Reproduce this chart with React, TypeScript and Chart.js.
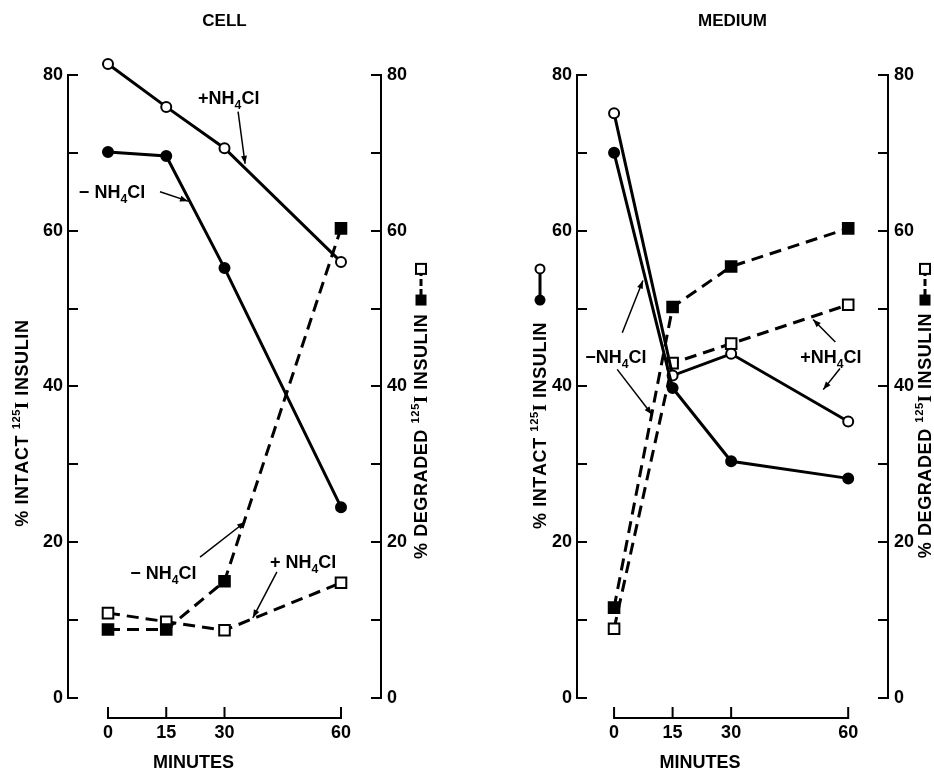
import React, { useEffect, useRef } from "react";
import { Chart, registerables } from "chart.js";

Chart.register(...registerables);

// ---------- data ----------
const MINUTES = [0, 15, 30, 60];
const X_TICKS = [0, 15, 30, 60];
const Y_TICKS = [0, 10, 20, 30, 40, 50, 60, 70, 80];
const Y_LABEL_EVERY = 20;

const CELL_INTACT_MINUS = [70.1, 69.6, 55.2, 24.5];
const CELL_INTACT_PLUS = [81.4, 75.9, 70.6, 56.0];
const CELL_DEGRADED_MINUS = [8.8, 8.8, 15.0, 60.3];
const CELL_DEGRADED_PLUS = [10.9, 9.8, 8.7, 14.8];

const MEDIUM_INTACT_MINUS = [70.0, 39.8, 30.4, 28.2];
const MEDIUM_INTACT_PLUS = [75.1, 41.4, 44.2, 35.5];
const MEDIUM_DEGRADED_MINUS = [11.6, 50.2, 55.4, 60.3];
const MEDIUM_DEGRADED_PLUS = [8.9, 43.0, 45.5, 50.5];

const PANEL_TITLES = ["CELL", "MEDIUM"];
const X_TITLE = "MINUTES";
const Y_LEFT_TITLE = "% INTACT ¹²⁵I INSULIN";
const Y_RIGHT_TITLE = "% DEGRADED ¹²⁵I INSULIN";

// annotations (in data units: minutes, percent)
const CELL_NOTES = [
  { text: "+NH₄Cl", x: 23.2, y: 77.1 },
  { text: "− NH₄Cl", x: -7.5, y: 65.0 },
  { text: "− NH₄Cl", x: 5.7, y: 16.1 },
  { text: "+ NH₄Cl", x: 41.7, y: 17.5 },
];
const CELL_ARROWS = [
  [33.5, 75.3, 35.3, 68.6],
  [13.4, 65.0, 20.6, 63.8],
  [23.7, 18.1, 35.3, 22.6],
  [43.5, 16.2, 37.3, 10.3],
];
const MEDIUM_NOTES = [
  { text: "−NH₄Cl", x: -7.4, y: 43.8 },
  { text: "+NH₄Cl", x: 47.7, y: 43.8 },
];
const MEDIUM_ARROWS = [
  [2.1, 46.9, 7.4, 53.6],
  [0.8, 42.2, 9.7, 36.4],
  [56.7, 45.7, 51.0, 48.6],
  [57.9, 42.3, 53.6, 39.6],
];

// ---------- layout / style ----------
const W = 467;
const H = 770;
const FONT = "'Liberation Sans', Arial, Helvetica, sans-serif";
const SERIF = "'Liberation Serif', 'DejaVu Serif', serif";
const X_TITLE_AT = 22;
const KEY_OPEN_AT = 55.1;
const KEY_FILLED_AT = 51.1;
const Y_HEADROOM = 2;

const PANELS = [
  {
    title: PANEL_TITLES[0],
    left: 0,
    pad: { left: 8, right: 46 },
    xRange: [-10.3, 70.3],
    intactMinus: CELL_INTACT_MINUS,
    intactPlus: CELL_INTACT_PLUS,
    degradedMinus: CELL_DEGRADED_MINUS,
    degradedPlus: CELL_DEGRADED_PLUS,
    notes: CELL_NOTES,
    arrows: CELL_ARROWS,
    leftTitle: { dx: -46, at: 35.3, key: null as null | string },
    rightTitle: { dx: 40, at: 33.6, key: "square" as null | string },
  },
  {
    title: PANEL_TITLES[1],
    left: 467,
    pad: { left: 50, right: 6 },
    xRange: [-9.5, 70.2],
    intactMinus: MEDIUM_INTACT_MINUS,
    intactPlus: MEDIUM_INTACT_PLUS,
    degradedMinus: MEDIUM_DEGRADED_MINUS,
    degradedPlus: MEDIUM_DEGRADED_PLUS,
    notes: MEDIUM_NOTES,
    arrows: MEDIUM_ARROWS,
    leftTitle: { dx: -37, at: 35.0, key: "circle" as null | string },
    rightTitle: { dx: 37, at: 33.7, key: "square" as null | string },
  },
];

// ---------- rich text ----------
const SUB = "₀₁₂₃₄₅₆₇₈₉";
const SUP = "⁰¹²³⁴⁵⁶⁷⁸⁹";

type Seg = { t: string; size: number; dy: number; serif: boolean; w?: number };

function toSegments(text: string, size: number): Seg[] {
  const segs: Seg[] = [];
  let prevSup = false;
  for (const ch of Array.from(text)) {
    const si = SUB.indexOf(ch);
    const pi = SUP.indexOf(ch);
    if (si >= 0) {
      segs.push({ t: String(si), size: size * 0.68, dy: size * 0.28, serif: false });
      prevSup = false;
    } else if (pi >= 0) {
      segs.push({ t: String(pi), size: size * 0.62, dy: -size * 0.45, serif: false });
      prevSup = true;
    } else {
      segs.push({ t: ch, size, dy: 0, serif: prevSup && ch === "I" });
      prevSup = false;
    }
  }
  return segs;
}

function fontOf(s: Seg) {
  return `bold ${s.size}px ${s.serif ? SERIF : FONT}`;
}

function drawRich(ctx: CanvasRenderingContext2D, text: string, x: number, yMid: number, size: number, align: string, spacing = 0) {
  const segs = toSegments(text, size);
  let total = 0;
  for (const s of segs) {
    ctx.font = fontOf(s);
    s.w = ctx.measureText(s.t).width + spacing;
    total += s.w;
  }
  let cx = align === "center" ? x - total / 2 : align === "right" ? x - total : x;
  const base = yMid + size * 0.36;
  ctx.textAlign = "left";
  ctx.textBaseline = "alphabetic";
  for (const s of segs) {
    ctx.font = fontOf(s);
    ctx.fillText(s.t, cx, base + s.dy);
    cx += s.w as number;
  }
  return total;
}

function drawArrow(ctx: CanvasRenderingContext2D, x1: number, y1: number, x2: number, y2: number) {
  ctx.lineWidth = 1.5;
  ctx.beginPath();
  ctx.moveTo(x1, y1);
  ctx.lineTo(x2, y2);
  ctx.stroke();
  const a = Math.atan2(y2 - y1, x2 - x1);
  const L = 8;
  const Wd = 3;
  ctx.beginPath();
  ctx.moveTo(x2, y2);
  ctx.lineTo(x2 - L * Math.cos(a) + Wd * Math.sin(a), y2 - L * Math.sin(a) - Wd * Math.cos(a));
  ctx.lineTo(x2 - L * Math.cos(a) - Wd * Math.sin(a), y2 - L * Math.sin(a) + Wd * Math.cos(a));
  ctx.closePath();
  ctx.fill();
}

function drawKey(ctx: CanvasRenderingContext2D, x: number, yOpen: number, yFilled: number, shape: string) {
  ctx.save();
  ctx.lineWidth = 3;
  if (shape === "square") ctx.setLineDash([7, 3]);
  ctx.beginPath();
  ctx.moveTo(x, yOpen);
  ctx.lineTo(x, yFilled);
  ctx.stroke();
  ctx.setLineDash([]);
  ctx.lineWidth = 2;
  if (shape === "circle") {
    ctx.beginPath();
    ctx.arc(x, yOpen, 4.5, 0, Math.PI * 2);
    ctx.fillStyle = "#fff";
    ctx.fill();
    ctx.stroke();
    ctx.beginPath();
    ctx.arc(x, yFilled, 5.5, 0, Math.PI * 2);
    ctx.fillStyle = "#000";
    ctx.fill();
  } else {
    ctx.fillStyle = "#fff";
    ctx.fillRect(x - 5, yOpen - 5, 10, 10);
    ctx.strokeRect(x - 5, yOpen - 5, 10, 10);
    ctx.fillStyle = "#000";
    ctx.fillRect(x - 5.5, yFilled - 5.5, 11, 11);
  }
  ctx.restore();
}

function makeOverlay(p: (typeof PANELS)[number]) {
  return {
    id: "overlay",
    afterDatasetsDraw(chart: any) {
      const { ctx, chartArea: ca, scales } = chart;
      const xs = scales.x;
      const ys = scales.y;
      ctx.save();
      ctx.strokeStyle = "#000";
      ctx.fillStyle = "#000";

      // y axis lines, from the first to the last tick
      const yTop = ys.getPixelForValue(Y_TICKS[Y_TICKS.length - 1]);
      const yBot = ys.getPixelForValue(Y_TICKS[0]);
      ctx.lineWidth = 2;
      ctx.beginPath();
      ctx.moveTo(ca.left, yTop - 1);
      ctx.lineTo(ca.left, yBot + 1);
      ctx.moveTo(ca.right, yTop - 1);
      ctx.lineTo(ca.right, yBot + 1);
      ctx.stroke();

      // detached x axis
      const ay = yBot + 20;
      ctx.beginPath();
      ctx.moveTo(xs.getPixelForValue(X_TICKS[0]) - 1, ay);
      ctx.lineTo(xs.getPixelForValue(X_TICKS[X_TICKS.length - 1]) + 1, ay);
      for (const t of X_TICKS) {
        const px = xs.getPixelForValue(t);
        ctx.moveTo(px, ay);
        ctx.lineTo(px, ay - 11);
      }
      ctx.stroke();

      drawRich(ctx, X_TITLE, xs.getPixelForValue(X_TITLE_AT), yBot + 64, 18, "center");

      // y titles
      const titles = [
        { cfg: p.leftTitle, x: ca.left + p.leftTitle.dx, text: Y_LEFT_TITLE },
        { cfg: p.rightTitle, x: ca.right + p.rightTitle.dx, text: Y_RIGHT_TITLE },
      ];
      for (const t of titles) {
        ctx.save();
        ctx.translate(t.x, ys.getPixelForValue(t.cfg.at));
        ctx.rotate(-Math.PI / 2);
        drawRich(ctx, t.text, 0, 0, 18, "center", 0.6);
        ctx.restore();
        if (t.cfg.key) {
          drawKey(ctx, t.x, ys.getPixelForValue(KEY_OPEN_AT), ys.getPixelForValue(KEY_FILLED_AT), t.cfg.key);
        }
      }

      // notes
      for (const n of p.notes) {
        drawRich(ctx, n.text, xs.getPixelForValue(n.x), ys.getPixelForValue(n.y), 18, "left");
      }
      for (const a of p.arrows) {
        drawArrow(ctx, xs.getPixelForValue(a[0]), ys.getPixelForValue(a[1]), xs.getPixelForValue(a[2]), ys.getPixelForValue(a[3]));
      }
      ctx.restore();
    },
  };
}

function series(label: string, data: number[], axis: string, style: string, filled: boolean, dashed: boolean) {
  return {
    label,
    data: MINUTES.map((m, i) => ({ x: m, y: data[i] })),
    yAxisID: axis,
    borderColor: "#000",
    borderWidth: 3,
    borderDash: dashed ? [12, 7] : [],
    pointStyle: style,
    pointRadius: style === "rect" ? 7.5 : 5,
    pointBorderWidth: 2,
    pointBackgroundColor: filled ? "#000" : "#fff",
    pointBorderColor: "#000",
    tension: 0,
    fill: false,
    clip: false,
  };
}

function yScale(position: string, width: number, padding: number) {
  return {
    type: "linear",
    position,
    min: Y_TICKS[0],
    max: Y_TICKS[Y_TICKS.length - 1] + Y_HEADROOM,
    afterBuildTicks: (s: any) => {
      s.ticks = Y_TICKS.map((v) => ({ value: v }));
    },
    afterFit: (s: any) => {
      s.width = width;
    },
    ticks: {
      padding,
      color: "#000",
      autoSkip: false,
      font: { family: FONT, size: 18, weight: "bold" },
      callback: (v: number) => (v % Y_LABEL_EVERY === 0 ? String(v) : ""),
    },
    grid: {
      display: true,
      drawOnChartArea: false,
      drawTicks: true,
      tickLength: -10,
      color: "#000",
      lineWidth: 2,
    },
    border: { display: false },
  };
}

function Panel({ p }: { p: (typeof PANELS)[number] }) {
  const ref = useRef<HTMLCanvasElement | null>(null);
  useEffect(() => {
    if (!ref.current) return;
    const chart = new Chart(ref.current, {
      type: "line",
      data: {
        datasets: [
          series("intact −NH4Cl", p.intactMinus, "y", "circle", true, false),
          series("intact +NH4Cl", p.intactPlus, "y", "circle", false, false),
          series("degraded −NH4Cl", p.degradedMinus, "y2", "rect", true, true),
          series("degraded +NH4Cl", p.degradedPlus, "y2", "rect", false, true),
        ] as any,
      },
      options: {
        responsive: false,
        animation: false,
        devicePixelRatio: 1,
        layout: { padding: { left: p.pad.left, right: p.pad.right, top: 0, bottom: 0 } },
        plugins: {
          legend: { display: false },
          tooltip: { enabled: false },
          title: {
            display: true,
            text: p.title,
            fullSize: false,
            color: "#000",
            font: { family: FONT, size: 17, weight: "bold" },
            padding: { top: 11, bottom: 28 },
          },
        },
        scales: {
          x: {
            type: "linear",
            min: p.xRange[0],
            max: p.xRange[1],
            afterBuildTicks: (s: any) => {
              s.ticks = X_TICKS.map((v) => ({ value: v }));
            },
            afterFit: (s: any) => {
              s.height = 72;
            },
            ticks: {
              padding: 24,
              color: "#000",
              autoSkip: false,
              maxRotation: 0,
              font: { family: FONT, size: 18, weight: "bold" },
            },
            grid: { display: false, drawTicks: false },
            border: { display: false },
          },
          y: yScale("left", 60, 15),
          y2: yScale("right", 40, 16),
        } as any,
      },
      plugins: [makeOverlay(p)],
    });
    return () => chart.destroy();
  }, [p]);
  return (
    <canvas
      ref={ref}
      width={W}
      height={H}
      style={{ position: "absolute", left: p.left, top: 0, width: W, height: H }}
    />
  );
}

export default function App() {
  return (
    <div style={{ position: "fixed", left: 0, top: 0, width: 934, height: 770, background: "#fff", overflow: "hidden" }}>
      {PANELS.map((p) => (
        <Panel key={p.title} p={p} />
      ))}
    </div>
  );
}
